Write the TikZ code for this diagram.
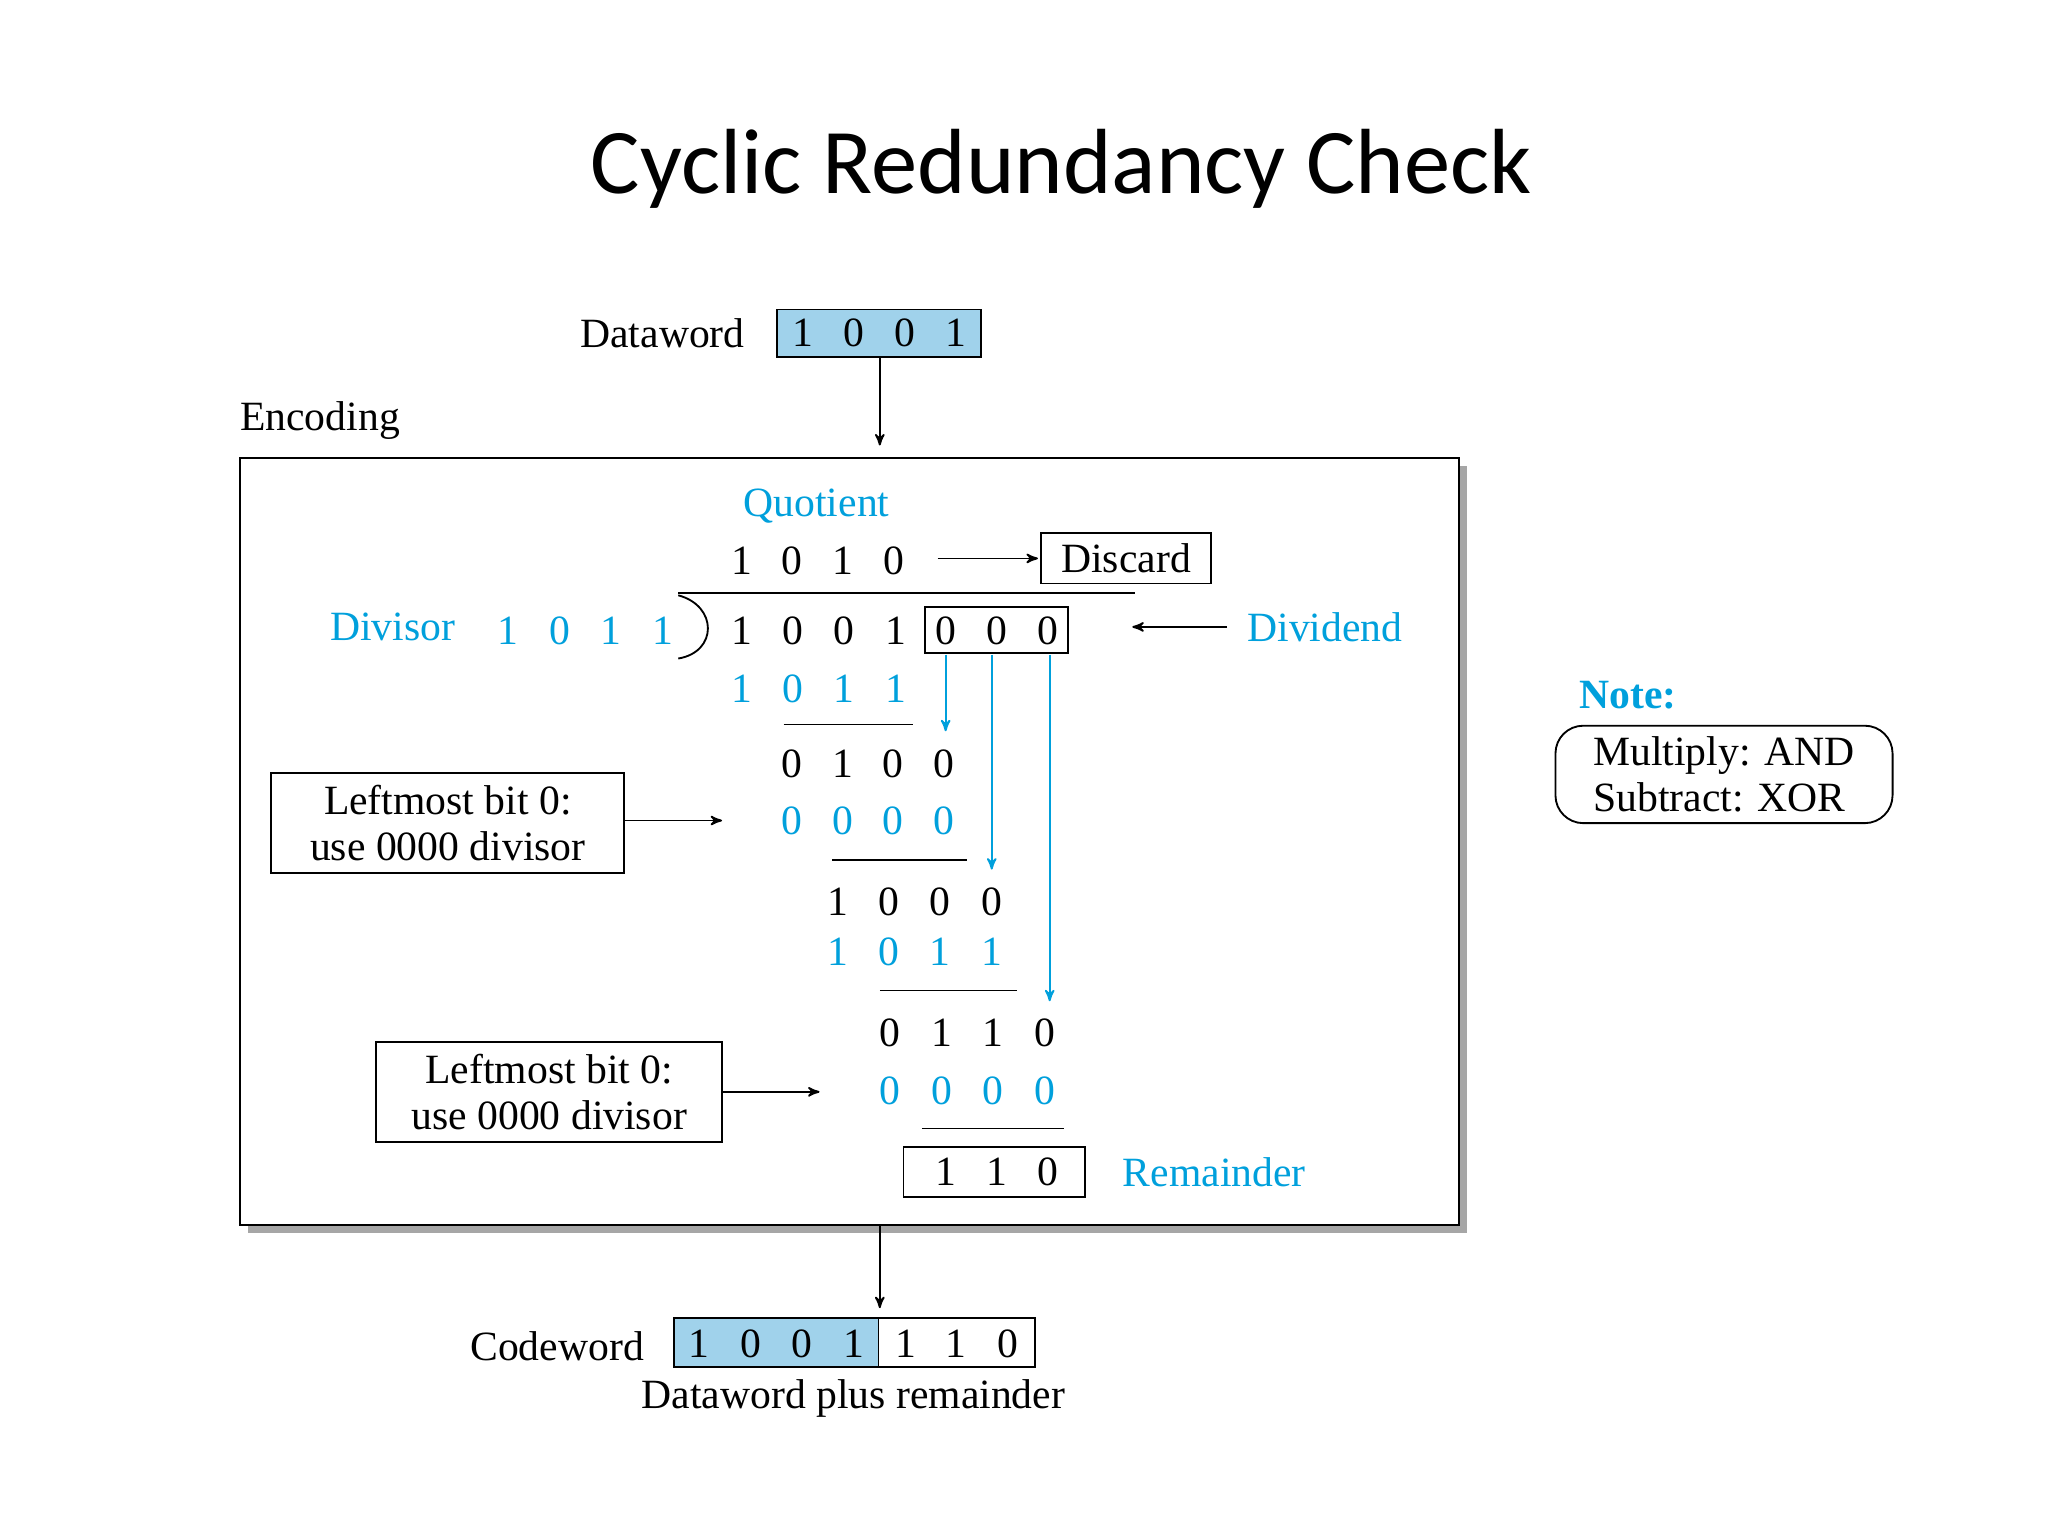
\documentclass[tikz,border=0pt]{standalone}
\usepackage{fontspec}
\setmainfont{Liberation Serif}
\newfontfamily\titlefont{Carlito}
\usetikzlibrary{arrows,shapes,positioning}
\definecolor{crcblue}{RGB}{0,160,220}
\definecolor{crcfill}{RGB}{160,210,235}
\begin{document}
\begin{tikzpicture}[x=0.02cm, y=-0.02cm, >=stealth', semithick,
  every node/.style={font=\fontsize{18}{20}\selectfont, inner sep=0pt},
  lbl/.style={text=crcblue},
  box/.style={draw, thick},
  arr/.style={->, thick, shorten >=1pt}]
\useasboundingbox (0,0) rectangle (1555,1166);
\node[font=\titlefont\fontsize{40}{44}\selectfont] (title) at (806,128) {Cyclic Redundancy Check};

% dataword
\node (dwl) at (503,253) {Dataword};
\draw[box, fill=crcfill] (590,235) rectangle (745,271);
\coordinate (dwb) at (668,271);
\foreach \x/\d in {610/1,648/0,687/0,726/1} \node at (\x,253) {\d};
\node (enc) at (243,319) {Encoding};

% encoding box
\fill[gray!70] (188,354) rectangle (1114,936);
\draw[thick, fill=white] (182,348) rectangle (1108,930);
\coordinate (top) at (668,340);
\draw[arr] (dwb) -- (top);

\node[lbl] (quot) at (620,384) {Quotient};
\foreach \x/\d in {563/1,601/0,640/1,679/0} \node at (\x,426) {\d};
\node[box, minimum width=2.58cm, minimum height=0.76cm] (disc) at (855,424) {Discard};
\coordinate (qa) at (712,424);
\draw[arr] (qa) -- (disc);
\draw[thick] (515,450) -- (862,450);
\draw[thick] (515,452) .. controls (545,460) and (545,495) .. (515,500);

\node[lbl] (div) at (298,476) {Divisor};
\foreach \x/\d in {386/1,425/0,464/1,503/1} \node[lbl] at (\x,479) {\d};
\foreach \x/\d in {563/1,602/0,641/0,680/1} \node at (\x,479) {\d};
\draw[thick] (702,461) rectangle (811,496);
\foreach \x in {718,757,796} \node at (\x,479) {0};
\node[lbl] (dvd) at (1006,476) {Dividend};
\coordinate (dvda) at (858,476);
\draw[arr] (dvd.west) ++(-15,0) -- (dvda);

\foreach \x/\d in {563/1,602/0,641/1,680/1} \node[lbl] at (\x,523) {\d};
\draw (595,550) -- (693,550);
\foreach \x/\d in {601/0,640/1,678/0,717/0} \node at (\x,580) {\d};
\foreach \x in {601,640,678,717} \node[lbl] at (\x,623) {0};
\draw (632,653) -- (734,653);
\foreach \x/\d in {636/1,675/0,714/0,753/0} \node at (\x,685) {\d};
\foreach \x/\d in {636/1,675/0,714/1,753/1} \node[lbl] at (\x,723) {\d};
\draw (668,752) -- (772,752);
\foreach \x/\d in {676/0,715/1,754/1,793/0} \node at (\x,784) {\d};
\foreach \x in {676,715,754,793} \node[lbl] at (\x,828) {0};
\draw (700,857) -- (808,857);

% bring-down arrows
\foreach \x/\y in {718/557,753/662,797/762}
  \draw[arr, crcblue] (\x,497) -- (\x,\y);

% remainder
\draw[thick] (686,871) rectangle (824,909);
\foreach \x/\d in {718/1,757/1,796/0} \node at (\x,890) {\d};
\node[lbl] (rem) at (922,890) {Remainder};

% notes inside
\node[box, minimum width=5.36cm, minimum height=1.52cm, align=center] (lb1) at (340,625) {Leftmost bit 0:\\use 0000 divisor};
\coordinate (lb1a) at (550,623);
\draw[arr] (lb1.east |- lb1a) -- (lb1a);
\node[box, minimum width=5.26cm, minimum height=1.52cm, align=center] (lb2) at (417,829) {Leftmost bit 0:\\use 0000 divisor};
\coordinate (lb2a) at (624,829);
\draw[arr] (lb2.east |- lb2a) -- (lb2a);

% codeword
\coordinate (bot) at (668,930);
\coordinate (cwt) at (668,995);
\draw[arr] (bot) -- (cwt);
\node (cwl) at (423,1022) {Codeword};
\draw[box, fill=crcfill] (512,1001) rectangle (667,1038);
\draw[box] (667,1001) rectangle (786,1038);
\foreach \x/\d in {531/1,570/0,609/0,648/1,688/1,726/1,765/0} \node at (\x,1020) {\d};
\node (plus) at (648,1062) {Dataword plus remainder};

% note
\node[lbl, font=\bfseries\fontsize{18}{20}\selectfont] (note) at (1236,528) {Note:};
\node[draw, thick, rounded corners=12pt, minimum width=5.12cm, minimum height=1.48cm, align=left] (ops) at (1309,588) {Multiply: AND\\Subtract: XOR};
\end{tikzpicture}
\end{document}
